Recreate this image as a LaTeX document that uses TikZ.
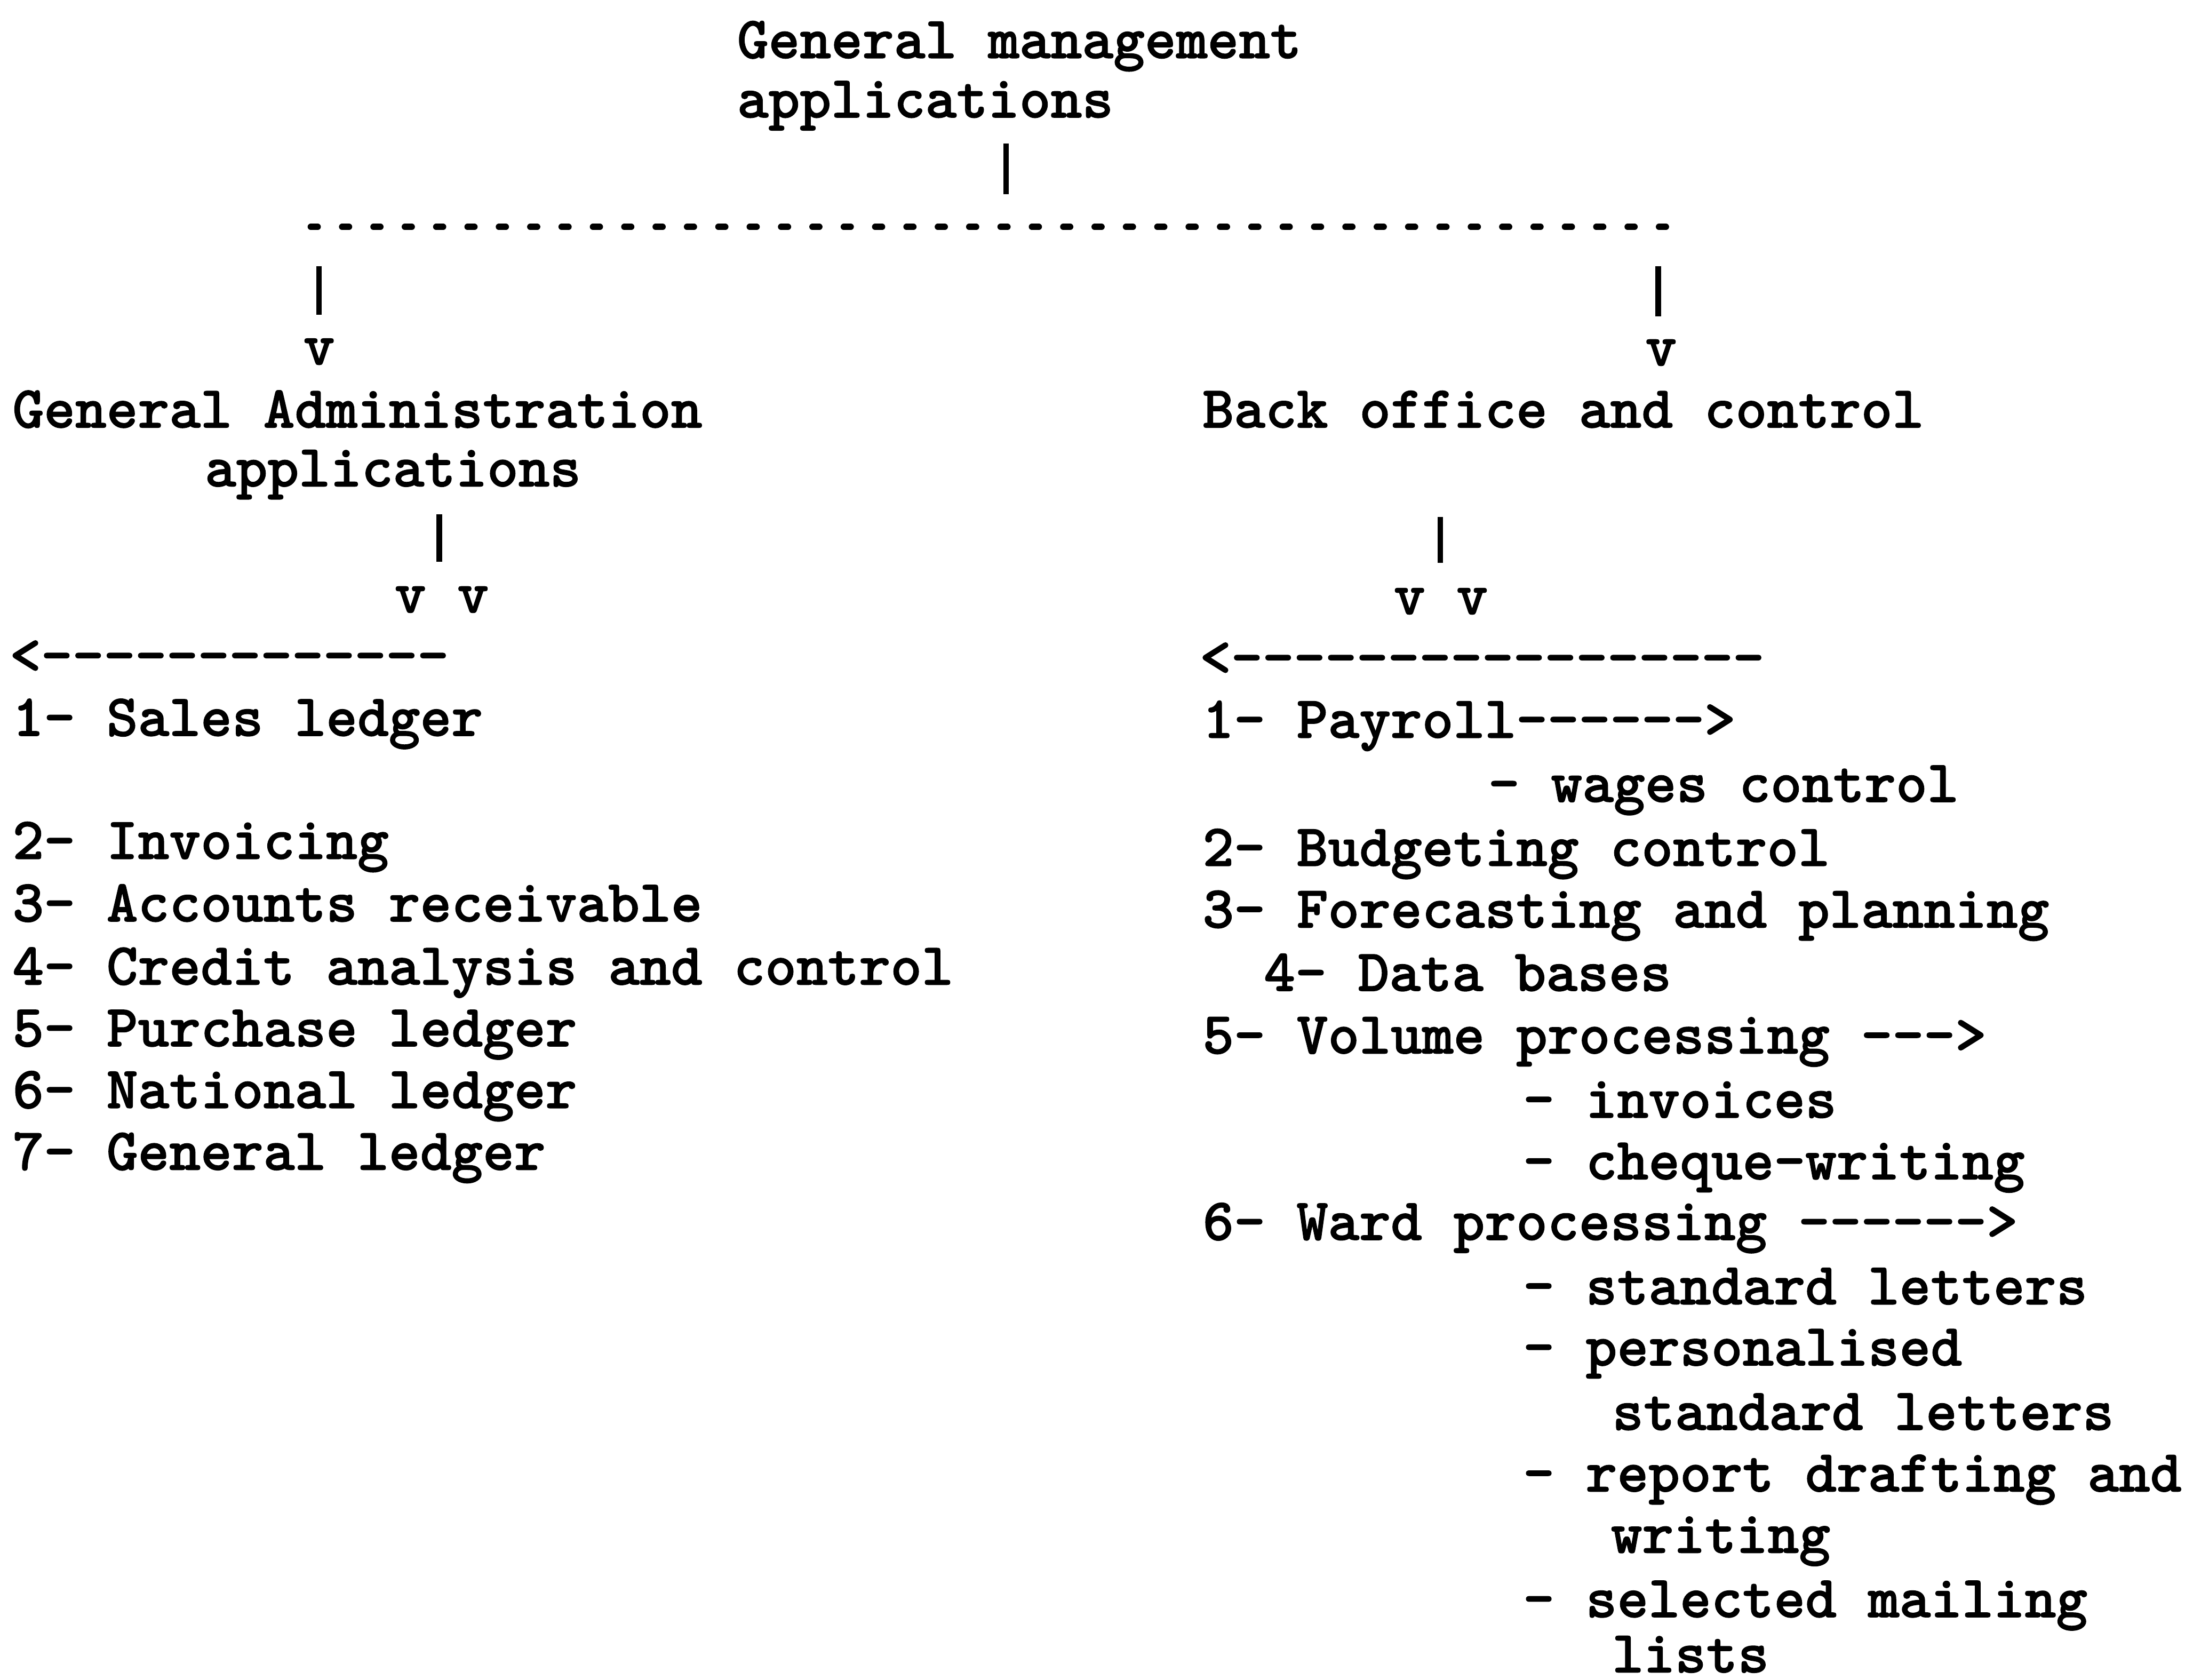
\documentclass[tikz,border=0pt]{standalone}
\usepackage{fontspec}
\newfontfamily\twfont{lmmonolt10-bold.otf}[FakeBold=1.2]
\newcount\dshcnt
\newcommand\Dashes[1]{\dshcnt=0 \loop\ifnum\dshcnt<#1 -\kern0pt\advance\dshcnt by 1 \repeat}
\newcommand\tw{\twfont\fontsize{42.86}{44}\selectfont}
\tikzset{
 txt/.style={anchor=base west, inner sep=0pt, outer sep=0pt, font=\tw},
 ctxt/.style={anchor=base, inner sep=0pt, outer sep=0pt, font=\tw},
 bar/.style={line width=4pt},
 typedots/.style={line width=4.5pt, line cap=round, dash pattern=on 5pt off 17.5pt}
}
\begin{document}
\begin{tikzpicture}[x=1pt,y=-1pt]
\fill[white] (0,0) rectangle (1568,1205.1);
\useasboundingbox (0,0) rectangle (1568,1205.1);
% top
\node[txt] (gmA) at (529,41.7) {General management};
\node[txt] (gmB) at (529,84.3) {applications};
\coordinate (gmbarT) at (722,103);
\coordinate (gmbarB) at (722,139.4);
\draw[bar] (gmbarT) -- (gmbarB);
\coordinate (splitL) at (223,162.8);
\coordinate (splitR) at (1195.5,162.8);
\draw[typedots] (splitL) -- (splitR);
\coordinate (lbarT) at (229,191);
\coordinate (lbarB) at (229,226);
\coordinate (rbarT) at (1190,191);
\coordinate (rbarB) at (1190,227);
\draw[bar] (lbarT) -- (lbarB);
\draw[bar] (rbarT) -- (rbarB);
\node[ctxt] (lv) at (229,261.6) {v};
\node[ctxt] (rv) at (1192,262.3) {v};
% second level
\node[txt] (gaA) at (9,306.8) {General Administration};
\node[txt] (gaB) at (147,349) {applications};
\node[txt] (bo) at (863,306.8) {Back office and control};
\coordinate (gabarT) at (315.3,369);
\coordinate (gabarB) at (315.3,403);
\coordinate (bobarT) at (1033.5,371);
\coordinate (bobarB) at (1033.5,404);
\draw[bar] (gabarT) -- (gabarB);
\draw[bar] (bobarT) -- (bobarB);
\node[ctxt] (lvv) at (317,439.5) {v v};
\node[ctxt] (rvv) at (1034,440.7) {v v};
\node[txt] (larr) at (7,483.5) {<\Dashes{13}};
\node[txt] (rarr) at (861,485) {<\Dashes{17}};
% left list
\node[txt] (l1) at (9,528) {1- Sales ledger};
\node[txt] (l2) at (9,616.3) {2- Invoicing};
\node[txt] (l3) at (9,661.2) {3- Accounts receivable};
\node[txt] (l4) at (9,706.5) {4- Credit analysis and control};
\node[txt] (l5) at (9,750.8) {5- Purchase ledger};
\node[txt] (l6) at (9,795.1) {6- National ledger};
\node[txt] (l7) at (9,839.4) {7- General ledger};
% right list
\node[txt] (r1) at (863,529.4) {1- Payroll\Dashes{6}>};
\node[txt] (r1a) at (1068,575.4) {- wages control};
\node[txt] (r2) at (863,621.3) {2- Budgeting control};
\node[txt] (r3) at (863,665.6) {3- Forecasting and planning};
\node[txt] (r4) at (907,711) {4- Data bases};
\node[txt] (r5) at (863,755.9) {5- Volume processing \Dashes{3}>};
\node[txt] (r5a) at (1093,802) {- invoices};
\node[txt] (r5b) at (1093,846.2) {- cheque-writing};
\node[txt] (r6) at (863,889.7) {6- Ward processing \Dashes{6}>};
\node[txt] (r6a) at (1093,935.9) {- standard letters};
\node[txt] (r6b) at (1093,979.8) {- personalised};
\node[txt] (r6c) at (1157,1026) {standard letters};
\node[txt] (r6d) at (1093,1070.2) {- report drafting and};
\node[txt] (r6e) at (1156,1114.2) {writing};
\node[txt] (r6f) at (1093,1160.4) {- selected mailing};
\node[txt] (r6g) at (1157,1200) {lists};
\end{tikzpicture}
\end{document}
